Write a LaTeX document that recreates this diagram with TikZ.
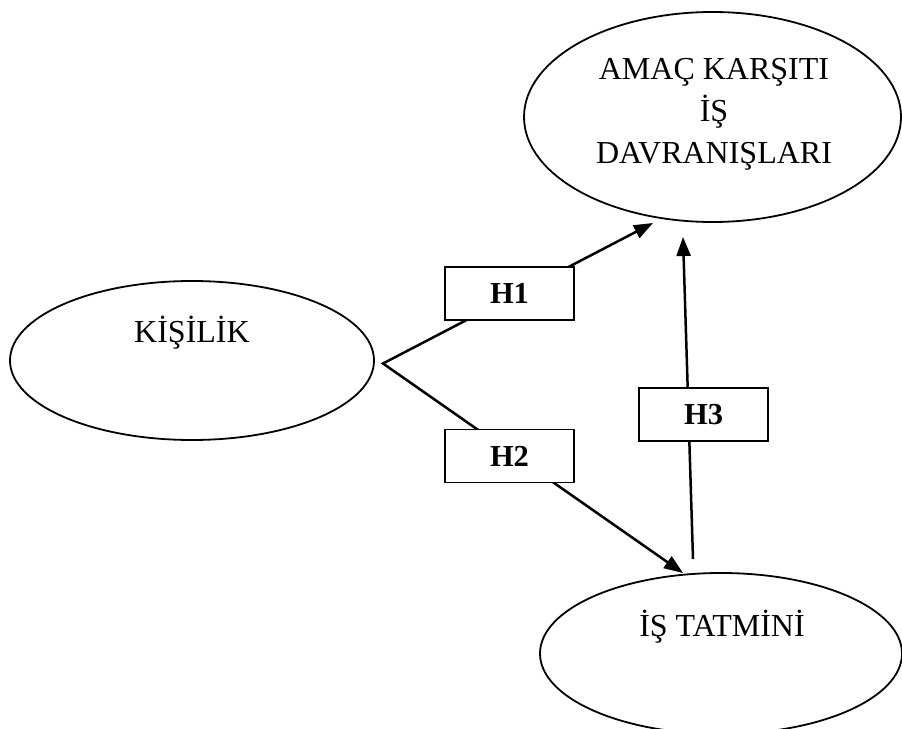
\documentclass[tikz,border=0pt]{standalone}
\usepackage{fontspec}
\setmainfont{Liberation Serif}
\usetikzlibrary{arrows.meta,shapes.geometric}
\begin{document}
\begin{tikzpicture}[x=1bp,y=-1bp,
  oval/.style={draw,line width=1.8bp,ellipse,inner sep=0pt},
  lbl/.style={font=\fontsize{32bp}{42bp}\selectfont,align=center,inner sep=0pt,anchor=base},
  hbox/.style={draw,line width=1.8bp,fill=white,minimum width=129bp,minimum height=53bp,
               inner sep=0pt,font=\fontsize{30.5bp}{36bp}\selectfont\bfseries},
  hd/.tip={Triangle[length=19bp,width=14bp]},
  link/.style={line width=2.5bp,line join=miter},
]
\useasboundingbox (0,0) rectangle (902,729);

% constructs
\node[oval,minimum width=377bp,minimum height=210bp] (acb) at (712.5,117) {};
\node[oval,minimum width=364bp,minimum height=159bp] (kis) at (192,360.5) {};
\node[oval,minimum width=362bp,minimum height=161bp] (tat) at (721,653.5) {};

% construct names (base anchor sits on the last line)
\node[lbl] (acbT) at (714,164) {AMAÇ KARŞITI\\İŞ\\DAVRANIŞLARI};
\node[lbl] (kisT) at (192,342) {KİŞİLİK};
\node[lbl] (tatT) at (722,636) {İŞ TATMİNİ};

% connector end points
\coordinate (fork) at (383,363.5);
\coordinate (h1end) at (653,223);
\coordinate (h2end) at (683,573);
\coordinate (h3start) at (693,559);
\coordinate (h3end) at (683,237);

% hypothesis paths
\draw[link,hd-hd] (h1end) -- (fork) -- (h2end);
\draw[link,-hd] (h3start) -- (h3end);

% hypothesis labels
\node[hbox] (h1) at (509.5,293.5) {H1};
\node[hbox] (h2) at (509.5,456) {H2};
\node[hbox] (h3) at (703.5,414.5) {H3};
\end{tikzpicture}
\end{document}
